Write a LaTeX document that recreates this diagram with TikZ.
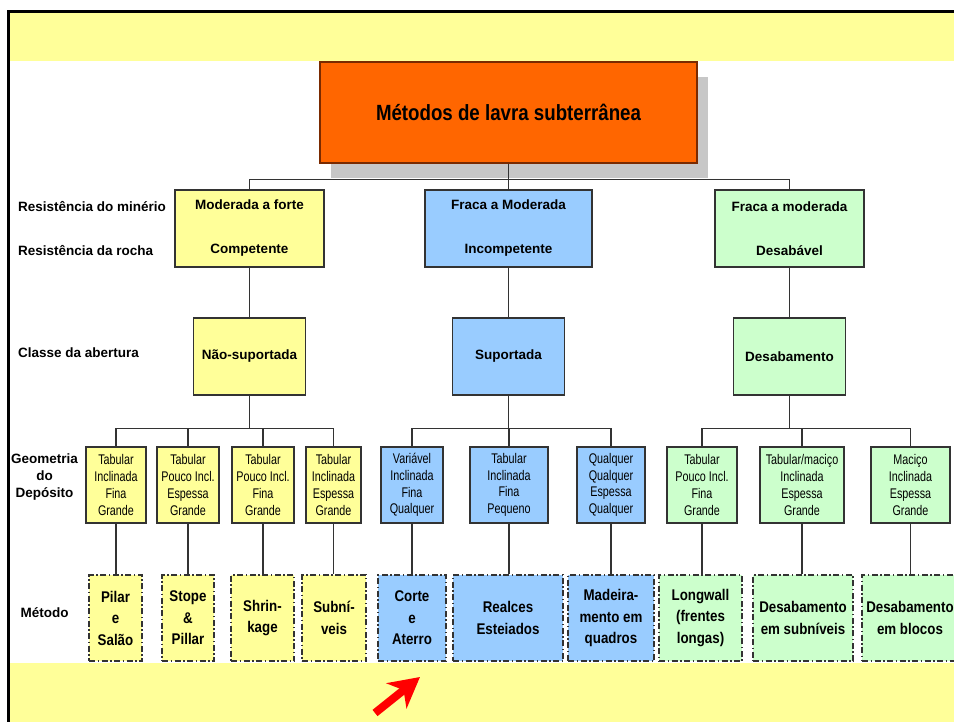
\documentclass[tikz,border=0pt]{standalone}
\usepackage{fontspec}
\setmainfont{Liberation Sans}
\newfontfamily\narrowfont{Liberation Sans}[FakeStretch=0.77]
\newfontfamily\methodfont{Liberation Sans}[FakeStretch=0.86]
\newfontfamily\titlefont{Liberation Sans}[FakeStretch=0.85]
\usetikzlibrary{arrows.meta}

\definecolor{boxyellow}{HTML}{FFFF99}
\definecolor{boxblue}{HTML}{99CCFF}
\definecolor{boxgreen}{HTML}{CCFFCC}
\definecolor{rootorange}{HTML}{FF6600}
\definecolor{rootedge}{HTML}{7A2A00}
\definecolor{edgegray}{HTML}{333333}

\begin{document}
\begin{tikzpicture}[x=1pt, y=-1pt,
  box/.style={draw=edgegray, line width=1.2pt, inner sep=0pt, align=center, text=black},
  levelbox/.style={box, minimum height=77pt, font=\bfseries\fontsize{13.5}{44}\selectfont},
  geobox/.style={box, minimum height=76pt, font=\narrowfont\fontsize{14}{16.7}\selectfont},
  methodbox/.style={box, minimum height=86pt, dash pattern=on 6pt off 2.5pt on 1.5pt off 2.5pt,
    font=\methodfont\bfseries\fontsize{15.5}{21.5}\selectfont},
  rowlabel/.style={anchor=west, inner sep=0pt, font=\bfseries\fontsize{13.5}{17}\selectfont},
  link/.style={draw=edgegray, line width=1.3pt}]

  \useasboundingbox (0,0) rectangle (954,722);
  \clip (0,0) rectangle (954,722);

  %% top band
  \fill[boxyellow] (9,13) rectangle (954,61);

  %% root
  \fill[black!22] (331,77) rectangle (708,178);
  \node[box, draw=rootedge, line width=1.6pt, fill=rootorange, minimum width=377pt, minimum height=101pt,
    font=\titlefont\bfseries\fontsize{22}{26}\selectfont] (root) at (508.5,112.5) {Métodos de lavra subterrânea};

  %% row labels
  \node[rowlabel] (lblOre) at (18,207) {Resistência do minério};
  \node[rowlabel] (lblRock) at (18,251) {Resistência da rocha};
  \node[rowlabel] (lblOpen) at (18,353) {Classe da abertura};
  \node[rowlabel, anchor=center, align=center] (lblGeo) at (44.5,477) {Geometria\\do\\Depósito};
  \node[rowlabel, anchor=center] (lblMet) at (44.5,613) {Método};

  %% strength
  \node[levelbox, fill=boxyellow, minimum width=149pt] (oreA) at (249.5,228.5) {Moderada a forte\\Competente};
  \node[levelbox, fill=boxblue, minimum width=167pt] (oreB) at (508.5,228.5) {Fraca a Moderada\\Incompetente};
  \node[levelbox, fill=boxgreen, minimum width=149pt] (oreC) at (789.5,228.5) {Fraca a moderada\\Desabável};

  %% opening class
  \node[levelbox, fill=boxyellow, minimum width=112pt] (openA) at (249.5,356.5) {Não-suportada};
  \node[levelbox, fill=boxblue, minimum width=112pt] (openB) at (508.5,356.5) {Suportada};
  \node[levelbox, fill=boxgreen, minimum width=112pt] (openC) at (789.5,356.5) {Desabamento};

  %% deposit geometry
  \foreach \n/\x/\w/\c/\txt in {
    1/116/60/boxyellow/{Tabular\\Inclinada\\Fina\\Grande},
    2/188/62/boxyellow/{Tabular\\Pouco Incl.\\Espessa\\Grande},
    3/263/62/boxyellow/{Tabular\\Pouco Incl.\\Fina\\Grande},
    4/333.5/55/boxyellow/{Tabular\\Inclinada\\Espessa\\Grande},
    5/412/62/boxblue/{Variável\\Inclinada\\Fina\\Qualquer},
    6/509/78/boxblue/{Tabular\\Inclinada\\Fina\\Pequeno},
    7/611/68/boxblue/{Qualquer\\Qualquer\\Espessa\\Qualquer},
    8/702/70/boxgreen/{Tabular\\Pouco Incl.\\Fina\\Grande},
    9/802/84/boxgreen/{Tabular/maciço\\Inclinada\\Espessa\\Grande},
    10/910.5/79/boxgreen/{Maciço\\Inclinada\\Espessa\\Grande}}
    \node[geobox, fill=\c, minimum width=\w pt] (geo\n) at (\x,485) {\txt};

  %% methods
  \foreach \n/\x/\w/\c/\txt in {
    1/115.5/53/boxyellow/{Pilar\\e\\Salão},
    2/188/52/boxyellow/{Stope\\\&\\Pillar},
    3/262.5/63/boxyellow/{Shrin-\\kage},
    4/334/64/boxyellow/{Subní-\\veis},
    5/412/68/boxblue/{Corte\\e\\Aterro},
    6/508/110/boxblue/{Realces\\Esteiados},
    7/611/86/boxblue/{Madeira-\\mento em\\quadros},
    8/700.5/83/boxgreen/{Longwall\\(frentes\\longas)},
    9/803/100/boxgreen/{Desabamento\\em subníveis},
    10/910/96/boxgreen/{Desabamento\\em blocos}}
    \node[methodbox, fill=\c, minimum width=\w pt] (met\n) at (\x,618) {\txt};

  %% connectors
  \draw[link] (root.south) -- (oreB.north);
  \draw[link] (root.south) -- ++(0,16) -| (oreA.north);
  \draw[link] (root.south) -- ++(0,16) -| (oreC.north);
  \foreach \k in {A,B,C}
    \draw[link] (ore\k) -- (open\k);
  \foreach \p/\g in {A/1,A/2,A/3,A/4,B/5,B/6,B/7,C/8,C/9,C/10}
    \draw[link] (open\p.south) -- ++(0,33) -| (geo\g.north);
  \foreach \g in {1,...,10}
    \draw[link] (geo\g.south) -- (geo\g.south |- met\g.north);

  %% bottom band, frame
  \fill[boxyellow] (9,663) rectangle (954,722);
  \draw[line width=3pt] (8,722) -- (8,12) -- (954,12);

  %% red arrow
  \coordinate (arrowtail) at (375,713);
  \coordinate (arrowtip) at (420,677);
  \draw[red, line width=8pt, -{Stealth[length=30pt, width=32pt, inset=9pt]}] (arrowtail) -- (arrowtip);
\end{tikzpicture}
\end{document}
